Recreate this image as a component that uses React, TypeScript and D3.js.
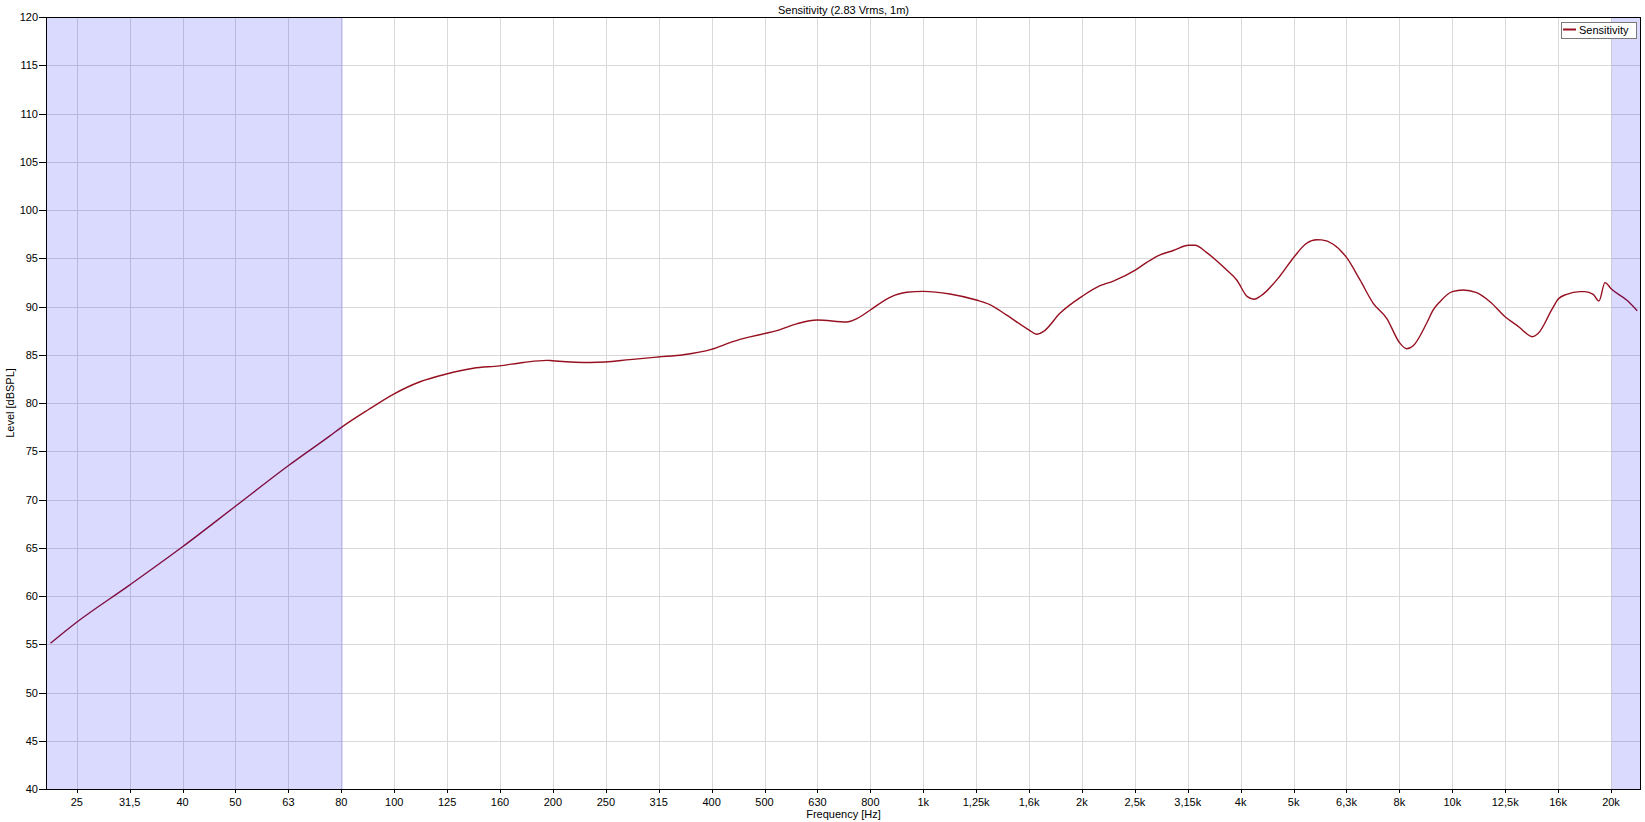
import React from "react";
import * as d3 from "d3";

// ---- data ----
const FREQ_HZ = [
  22.4, 25.0, 31.55, 39.8, 50.1, 63.05, 75.6, 79.6, 89.3, 99.6, 111.9, 125.5, 141.1, 158, 175.5, 194.2, 199,
  234.5, 250.6, 279, 315.7, 351.9, 397.6, 431.3, 450.4, 470.5, 501.6, 528.5, 576.5, 630.5, 716.7, 748.8,
  794.3, 865.1, 930.4, 1000, 1123, 1260, 1336, 1438, 1586, 1638, 1686, 1813, 2001, 2158, 2287, 2521, 2650,
  2790, 2969, 3175, 3264, 3434, 3746, 3913, 4098, 4218, 4343, 4723, 5026, 5305, 5541, 5664, 5956,
  6315, 6692, 7089, 7515, 7961, 8197, 8437, 8942, 9204, 9477, 9998, 10487, 11118, 11781, 12615, 13422,
  13821, 14163, 14537, 15411, 15860, 16450, 17430, 17812, 18468, 18933, 19435, 20008, 21356, 22364,
];
const LEVEL_DB = [
  55.1, 57.2, 61.1, 65.1, 69.3, 73.5, 76.6, 77.5, 79.3, 80.9, 82.2, 83.0, 83.6, 83.85, 84.2, 84.42, 84.38,
  84.2, 84.25, 84.5, 84.77, 85.0, 85.56, 86.25, 86.6, 86.85, 87.2, 87.5, 88.2, 88.6, 88.4, 88.74,
  89.64, 90.95, 91.47, 91.57, 91.3, 90.67, 90.2, 89.1, 87.56, 87.12, 87.39, 89.3, 91.09, 92.16, 92.64, 93.8, 94.6,
  95.3, 95.8, 96.34, 96.34, 95.58, 93.78, 92.75, 91.02, 90.75, 91.09, 93.16, 95.16, 96.55, 96.92, 96.9, 96.45,
  95.06, 92.75, 90.33, 88.78, 86.2, 85.62, 85.94, 88.26, 89.64, 90.5, 91.54, 91.71, 91.43, 90.5, 88.88, 87.8,
  87.18, 86.87, 87.22, 89.64, 90.78, 91.26, 91.54, 91.54, 91.26, 90.57, 92.47, 91.78, 90.67, 89.57,
];

const X_TICK_VALUES = [
  25.12, 31.62, 39.81, 50.12, 63.1, 79.43, 100, 125.9, 158.5, 199.5, 251.2, 316.2, 398.1, 501.2, 631,
  794.3, 1000, 1259, 1585, 1995, 2512, 3162, 3981, 5012, 6310, 7943, 10000, 12589, 15849, 19953,
];
const X_TICK_LABELS = [
  "25", "31,5", "40", "50", "63", "80", "100", "125", "160", "200", "250", "315", "400", "500", "630",
  "800", "1k", "1,25k", "1,6k", "2k", "2,5k", "3,15k", "4k", "5k", "6,3k", "8k", "10k", "12,5k", "16k", "20k",
];
const Y_TICKS = [40, 45, 50, 55, 60, 65, 70, 75, 80, 85, 90, 95, 100, 105, 110, 115, 120];
const SHADED_BANDS: [number, number][] = [
  [20, 80],
  [20000, 25000],
];

const TITLE = "Sensitivity (2.83 Vrms, 1m)";
const SERIES_NAME = "Sensitivity";
const X_LABEL = "Frequency [Hz]";
const Y_LABEL = "Level [dBSPL]";

// ---- layout ----
const W = 1645;
const H = 822;
const L = 46;
const R = 1641;
const T = 17;
const B = 789;
const FONT = "'Liberation Sans', Arial, sans-serif";
const CURVE_COLOR = "#961020";

export default function App() {
  const x = d3.scaleLog().domain([21.97, 22735]).range([L, R]);
  const y = d3.scaleLinear().domain([40, 120]).range([B, T]);
  const pts: [number, number][] = FREQ_HZ.map((f, i) => [x(f), y(LEVEL_DB[i])]);
  const line = d3.line().curve(d3.curveMonotoneX)(pts) || "";
  const px = (v: number) => Math.round(v) + 0.5;

  return (
    <div style={{ position: "fixed", left: 0, top: 0, width: W, height: H, background: "#fff" }}>
      <svg width={W} height={H} style={{ display: "block", fontFamily: FONT }}>
        <rect x={0} y={0} width={W} height={H} fill="#fff" />
        <defs>
          <clipPath id="plotclip">
            <rect x={L} y={T} width={R - L} height={B - T} />
          </clipPath>
        </defs>
        {/* grid */}
        <g stroke="#d9d9d9" strokeWidth={1} shapeRendering="crispEdges">
          {X_TICK_VALUES.map((v, i) => (
            <line key={"gx" + i} x1={px(x(v))} x2={px(x(v))} y1={T} y2={B} />
          ))}
          {Y_TICKS.map((v, i) => (
            <line key={"gy" + i} x1={L} x2={R} y1={px(y(v))} y2={px(y(v))} />
          ))}
        </g>
        {/* curve */}
        <g clipPath="url(#plotclip)">
          <path d={line} fill="none" stroke={CURVE_COLOR} strokeWidth={1.4} strokeLinejoin="round" />
        </g>
        {/* shaded bands */}
        <g clipPath="url(#plotclip)">
          {SHADED_BANDS.map(([a, b], i) => (
            <rect
              key={"sb" + i}
              x={x(a)}
              y={T}
              width={x(b) - x(a)}
              height={B - T}
              fill="#0000ff"
              fillOpacity={0.145}
            />
          ))}
        </g>
        {/* frame */}
        <rect x={L + 0.5} y={T + 0.5} width={R - L - 1} height={B - T} fill="none" stroke="#000" strokeWidth={1} shapeRendering="crispEdges" />
        {/* y ticks */}
        <g>
          {Y_TICKS.map((v, i) => (
            <g key={"yt" + i}>
              <line x1={39} x2={L} y1={px(y(v))} y2={px(y(v))} stroke="#000" shapeRendering="crispEdges" />
              <text x={38} y={y(v) + 4} fontSize={11} textAnchor="end" fill="#000">
                {v}
              </text>
            </g>
          ))}
        </g>
        {/* x ticks */}
        <g>
          {X_TICK_VALUES.map((v, i) => (
            <g key={"xt" + i}>
              <line x1={px(x(v))} x2={px(x(v))} y1={B} y2={B + 4} stroke="#000" shapeRendering="crispEdges" />
              <text x={x(v)} y={806} fontSize={11} textAnchor="middle" fill="#000">
                {X_TICK_LABELS[i]}
              </text>
            </g>
          ))}
        </g>
        {/* titles */}
        <text x={(L + R) / 2} y={14} fontSize={11} textAnchor="middle" fill="#000">
          {TITLE}
        </text>
        <text x={(L + R) / 2} y={818} fontSize={11} textAnchor="middle" fill="#000">
          {X_LABEL}
        </text>
        <text transform={`translate(14, ${(T + B) / 2}) rotate(-90)`} fontSize={11} textAnchor="middle" fill="#000">
          {Y_LABEL}
        </text>
        {/* legend */}
        <g>
          <rect x={1561.5} y={22.5} width={75} height={16} fill="#fff" stroke="#7a7a7a" strokeWidth={1} shapeRendering="crispEdges" />
          <line x1={1563} x2={1576} y1={29.5} y2={29.5} stroke={CURVE_COLOR} strokeWidth={2} />
          <text x={1579} y={34} fontSize={11} fill="#000">
            {SERIES_NAME}
          </text>
        </g>
      </svg>
    </div>
  );
}
